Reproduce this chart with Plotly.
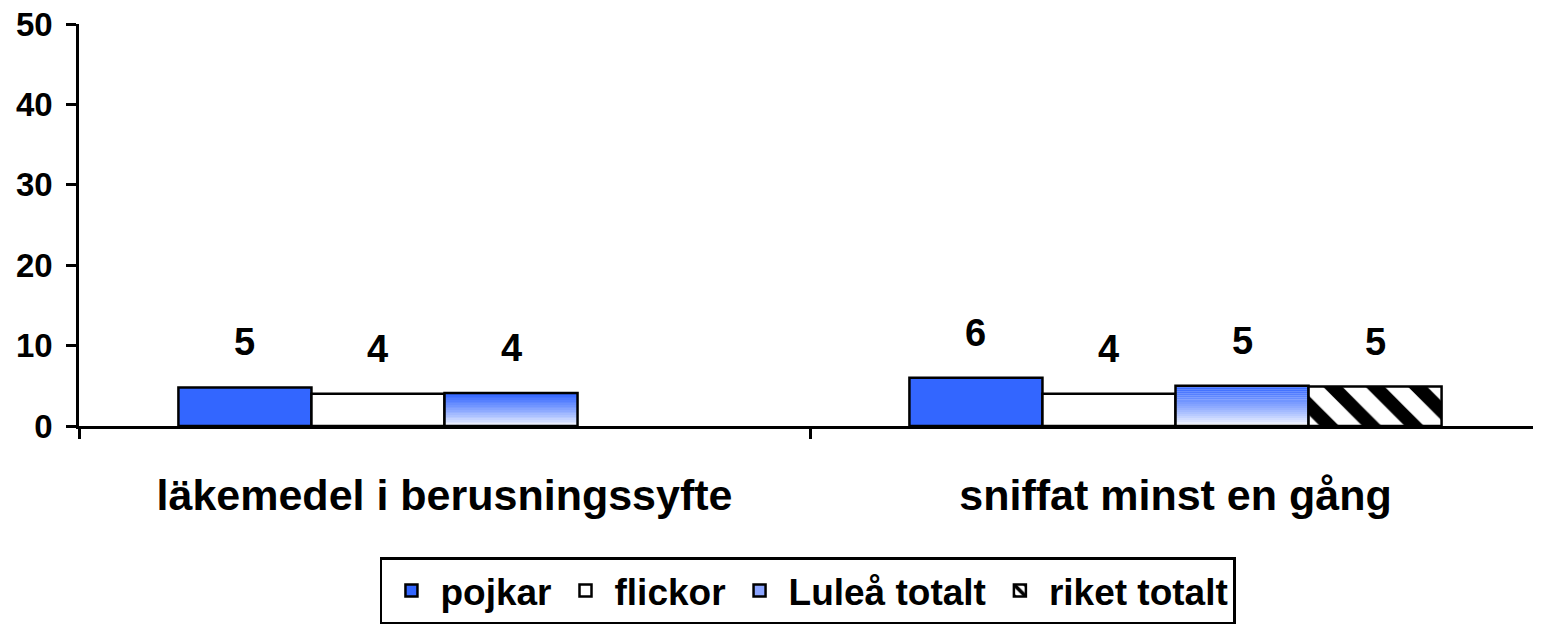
import plotly.graph_objects as go

categories = ["läkemedel i berusningssyfte", "sniffat minst en gång"]
pojkar = [4.8, 6.0]
flickor = [4.0, 4.0]
lulea_totalt = [4.1, 5.0]
riket_totalt = [None, 4.9]
series_names = ["pojkar", "flickor", "Luleå totalt", "riket totalt"]
y_ticks = [0, 10, 20, 30, 40, 50]

FONT = "Arial, Liberation Sans, sans-serif"
BLUE = (51, 102, 255)
LINE = dict(color="black", width=2.5)
BARGAP = 0.272

fig = go.Figure()

# pojkar
fig.add_trace(go.Bar(x=categories, y=pojkar, name=series_names[0], offsetgroup="0",
                     marker=dict(color="rgb(51,102,255)", line=LINE), legendrank=1))
# flickor
fig.add_trace(go.Bar(x=categories, y=flickor, name=series_names[1], offsetgroup="1",
                     marker=dict(color="white", line=LINE), legendrank=2))

# Luleå totalt: vertical gradient (blue top -> white bottom) built from slices
N = 20
for k in range(N):
    t = k / (N - 1)
    t = t ** 0.8
    r = int(255 + (BLUE[0] - 255) * t)
    g = int(255 + (BLUE[1] - 255) * t)
    b = int(255 + (BLUE[2] - 255) * t)
    fig.add_trace(go.Bar(
        x=categories,
        y=[v / N for v in lulea_totalt],
        base=[v * k / N for v in lulea_totalt],
        offsetgroup="2", showlegend=False, hoverinfo="skip",
        marker=dict(color=f"rgb({r},{g},{b})", line=dict(width=0)),
    ))
fig.add_trace(go.Bar(x=categories, y=lulea_totalt, name=series_names[2], offsetgroup="2",
                     marker=dict(color="rgba(0,0,0,0)", line=LINE), showlegend=False))
# legend entry for Luleå
fig.add_trace(go.Bar(x=categories, y=[None, None], name=series_names[2], offsetgroup="2",
                     marker=dict(color="rgb(140,165,255)", line=LINE), legendrank=3))

# riket totalt
fig.add_trace(go.Bar(x=categories, y=riket_totalt, name=series_names[3], offsetgroup="3",
                     marker=dict(color="white", line=LINE,
                                 pattern=dict(shape="\\", fgcolor="black", bgcolor="white",
                                              size=30, solidity=0.45, fillmode="replace",
                                              fgopacity=1)),
                     legendrank=4))

# data labels
all_series = [pojkar, flickor, lulea_totalt, riket_totalt]
grp = 1 - BARGAP
bw = grp / 4
for i, s in enumerate(all_series):
    for c, v in enumerate(s):
        if v is None:
            continue
        fig.add_annotation(x=c - grp / 2 + bw * (i + 0.5), y=v, xref="x", yref="y",
                           text=f"{round(v)}", showarrow=False, yanchor="bottom", yshift=22,
                           font=dict(family=FONT, size=38, color="black", weight="bold"))

fig.update_layout(
    width=1541, height=630,
    barmode="group", bargap=BARGAP, bargroupgap=0,
    plot_bgcolor="white", paper_bgcolor="white",
    margin=dict(l=71, r=8, t=16, b=211.5, autoexpand=False),
    font=dict(family=FONT, color="black", weight="bold"),
    legend=dict(orientation="h", x=0.4986, xanchor="center", y=-0.327, yanchor="top",
                bordercolor="black", borderwidth=2.5, bgcolor="white",
                font=dict(family=FONT, size=37, color="black", weight="bold"),
                traceorder="normal", itemwidth=48),
    showlegend=True,
)
fig.update_yaxes(range=[0, 50], tickvals=y_ticks, showgrid=False, zeroline=False,
                 showline=True, linecolor="black", linewidth=2.5,
                 ticks="outside", ticklen=10, tickwidth=2.5, tickcolor="black",
                 tickfont=dict(family=FONT, size=33, color="black", weight="bold"),
                 ticklabelstandoff=7, ticklabeloverflow="allow")
fig.update_xaxes(showgrid=False, zeroline=False, showline=True, linecolor="black", linewidth=2.5,
                 ticks="outside", tickson="boundaries", ticklen=10, tickwidth=2.5, tickcolor="black",
                 tickfont=dict(family=FONT, size=43, color="black", weight="bold"),
                 ticklabelstandoff=30)

fig.write_html("out.html")
